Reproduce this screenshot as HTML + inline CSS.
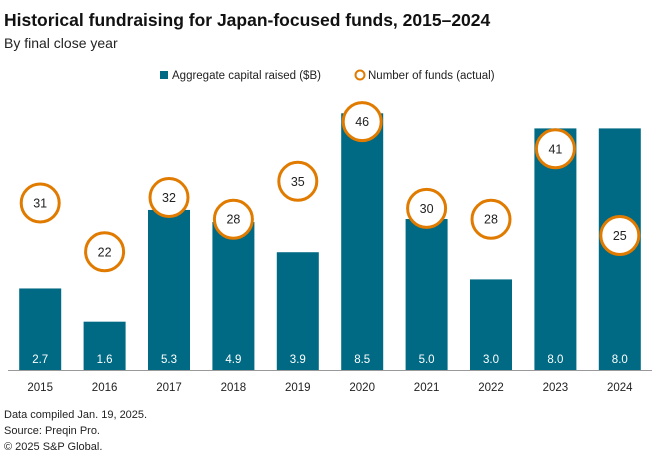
<!DOCTYPE html>
<html><head><meta charset="utf-8"><style>
body{margin:0;background:#fff;font-family:"Liberation Sans",sans-serif;}
svg text{font-family:"Liberation Sans",sans-serif;}
</style></head><body>
<svg id="chart" width="660" height="464">
<text x="4" y="26" font-size="17.5" font-weight="bold" fill="#111">Historical fundraising for Japan-focused funds, 2015–2024</text>
<text x="4" y="48" font-size="14" fill="#222">By final close year</text>
<g>
<rect x="160" y="71" width="8" height="8" fill="#006a84"/>
<text x="172" y="79" font-size="11.5" fill="#222">Aggregate capital raised ($B)</text>
<circle cx="360" cy="75" r="4.5" fill="#fff" stroke="#e07b00" stroke-width="2"/>
<text x="368" y="79" font-size="11.5" fill="#222">Number of funds (actual)</text>
</g>
<g id="plot"></g>
<line x1="8" y1="370.5" x2="652" y2="370.5" stroke="#999" stroke-width="1"/>
<text x="4" y="418" font-size="11" fill="#222">Data compiled Jan. 19, 2025.</text>
<text x="4" y="434" font-size="11" fill="#222">Source: Preqin Pro.</text>
<text x="4" y="450" font-size="11" fill="#222">© 2025 S&amp;P Global.</text>
</svg>
<script>
const years=["2015","2016","2017","2018","2019","2020","2021","2022","2023","2024"];
const capital=[2.7,1.6,5.3,4.9,3.9,8.5,5.0,3.0,8.0,8.0];
const funds=[31,22,32,28,35,46,30,28,41,25];
const NS="http://www.w3.org/2000/svg";
const g=document.getElementById('plot');
const x0=8,band=64.4,base=370,bw=42;
const yCap=v=>base-v*30.2;
const yFund=v=>371-v*5.42;
const xc=i=>x0+band*(i+0.5);
function mk(t,a){const e=document.createElementNS(NS,t);for(const k in a)e.setAttribute(k,a[k]);g.appendChild(e);return e;}
years.forEach((y,i)=>{
 const r=mk('rect',{x:xc(i)-bw/2,y:yCap(capital[i]),width:bw,height:base-yCap(capital[i]),fill:'#006a84'});
 
 
 const vt=mk('text',{x:xc(i),y:363,'font-size':11.5,fill:'#fff','text-anchor':'middle'});
 vt.textContent=capital[i].toFixed(1);
 
 
 const xt=mk('text',{x:xc(i),y:391,'font-size':11.5,fill:'#222','text-anchor':'middle'});
 xt.textContent=y;
 
 
});
years.forEach((y,i)=>{
 const c=mk('circle',{cx:xc(i),cy:yFund(funds[i]),r:19,fill:'#fff',stroke:'#e07b00','stroke-width':3});
 
 
 const t=mk('text',{x:xc(i),y:yFund(funds[i])+4.5,'font-size':12.5,fill:'#222','text-anchor':'middle'});
 t.textContent=funds[i];
 
 
});
</script>
</body></html>
